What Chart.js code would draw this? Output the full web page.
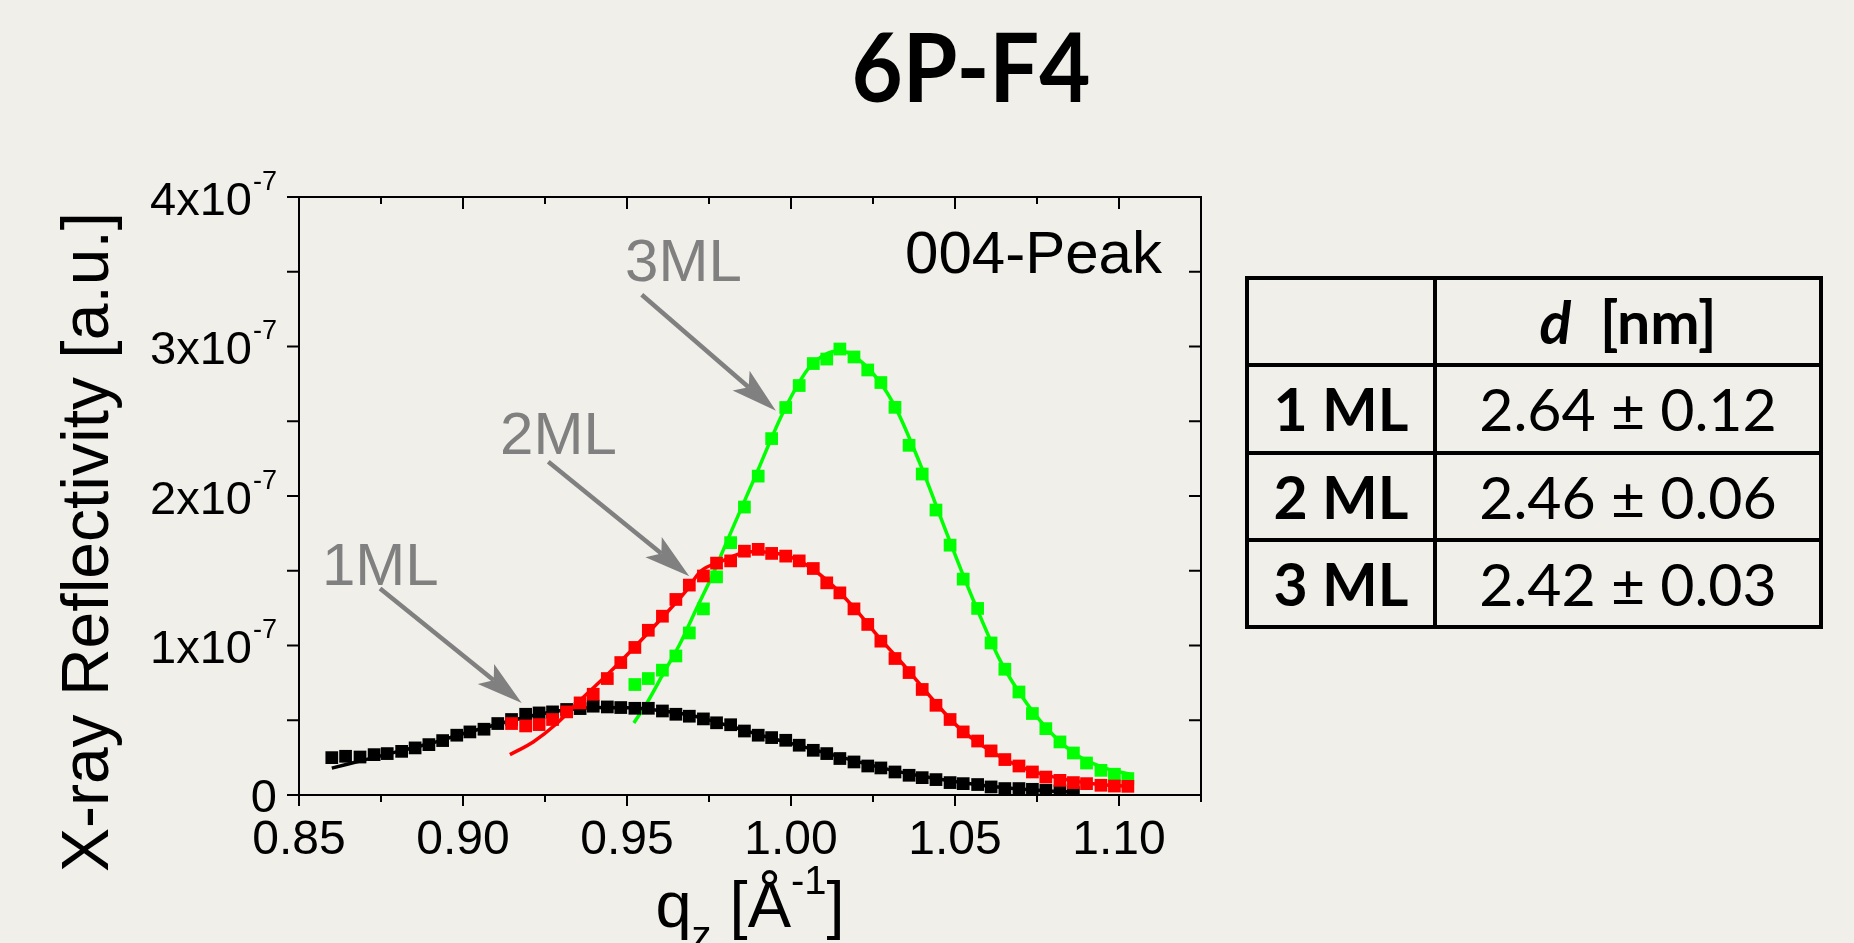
<!DOCTYPE html>
<html>
<head>
<meta charset="utf-8">
<title>6P-F4 004-Peak</title>
<script src="https://cdn.jsdelivr.net/npm/chart.js@4/dist/chart.umd.min.js"></script>
<style>
  html, body { margin: 0; padding: 0; background: #f0efe9; overflow: hidden; }
  #wrap { position: relative; width: 1854px; height: 943px; }
  #chart { position: absolute; left: 0; top: 0; }
  #tbl {
    position: absolute; left: 1245px; top: 276px; width: 578px; height: 353px;
    border-collapse: collapse; border: 4px solid #000;
    font-family: Lato, "Open Sans", sans-serif; font-size: 59px; color: #000;
  }
  #tbl td { border: 4px solid #000; text-align: center; padding: 0; height: 80px; line-height: 1; }
  #tbl td:first-child { width: 184px; font-weight: bold; }
</style>
</head>
<body>
<div id="wrap">
  <canvas id="chart" width="1854" height="943"></canvas>
  <table id="tbl"></table>
</div>
<script>
// X-ray reflectivity around the 004 peak, values in units of 1e-7 a.u.
// 1 ML (black)
let q1ML = [0.8600, 0.8642, 0.8686, 0.8729, 0.8769, 0.8813, 0.8854, 0.8896, 0.8938, 0.8981,
            0.9021, 0.9064, 0.9106, 0.9148, 0.9191, 0.9232, 0.9273, 0.9316, 0.9357, 0.9397,
            0.9440, 0.9481, 0.9524, 0.9565, 0.9608, 0.9649, 0.9690, 0.9733, 0.9773, 0.9816,
            0.9858, 0.9900, 0.9941, 0.9984, 1.0025, 1.0068, 1.0109, 1.0149, 1.0192, 1.0234,
            1.0274, 1.0317, 1.0360, 1.0400, 1.0442, 1.0485, 1.0525, 1.0569, 1.0610, 1.0652,
            1.0695, 1.0736, 1.0777, 1.0820, 1.0861];
let r1ML = [0.250, 0.259, 0.254, 0.270, 0.277, 0.292, 0.315, 0.337, 0.364, 0.400,
            0.422, 0.440, 0.478, 0.505, 0.540, 0.549, 0.556, 0.572, 0.578, 0.594,
            0.589, 0.585, 0.580, 0.580, 0.562, 0.540, 0.527, 0.509, 0.483, 0.470,
            0.428, 0.400, 0.384, 0.366, 0.333, 0.299, 0.277, 0.244, 0.221, 0.194,
            0.181, 0.154, 0.132, 0.116, 0.103, 0.083, 0.076, 0.070, 0.054, 0.043,
            0.043, 0.038, 0.031, 0.027, 0.016];

// 2 ML (red)
let q2ML = [0.9148, 0.9191, 0.9232, 0.9273, 0.9316, 0.9357, 0.9397, 0.9440, 0.9481, 0.9524,
            0.9565, 0.9608, 0.9649, 0.9690, 0.9733, 0.9773, 0.9816, 0.9858, 0.9900, 0.9941,
            0.9984, 1.0025, 1.0068, 1.0109, 1.0149, 1.0192, 1.0234, 1.0274, 1.0317, 1.0360,
            1.0400, 1.0442, 1.0485, 1.0525, 1.0569, 1.0610, 1.0652, 1.0695, 1.0736, 1.0777,
            1.0820, 1.0861, 1.0901, 1.0945, 1.0986, 1.1027];
let r2ML = [0.478, 0.462, 0.471, 0.505, 0.556, 0.616, 0.674, 0.779, 0.886, 0.987,
            1.102, 1.196, 1.308, 1.404, 1.465, 1.551, 1.566, 1.631, 1.643, 1.616,
            1.598, 1.566, 1.515, 1.419, 1.352, 1.245, 1.141, 1.029, 0.913, 0.819,
            0.706, 0.600, 0.505, 0.422, 0.361, 0.295, 0.237, 0.194, 0.154, 0.120,
            0.098, 0.083, 0.076, 0.065, 0.060, 0.058];

// 3 ML (green)
let q3ML = [0.9524, 0.9565, 0.9608, 0.9649, 0.9690, 0.9733, 0.9773, 0.9816, 0.9858, 0.9900,
            0.9941, 0.9984, 1.0025, 1.0068, 1.0109, 1.0149, 1.0192, 1.0234, 1.0274, 1.0317,
            1.0360, 1.0400, 1.0442, 1.0485, 1.0525, 1.0569, 1.0610, 1.0652, 1.0695, 1.0736,
            1.0777, 1.0820, 1.0861, 1.0901, 1.0945, 1.0986, 1.1027];
let r3ML = [0.739, 0.779, 0.835, 0.930, 1.084, 1.245, 1.459, 1.688, 1.926, 2.133,
            2.384, 2.592, 2.739, 2.886, 2.916, 2.983, 2.930, 2.843, 2.759, 2.593,
            2.339, 2.147, 1.906, 1.671, 1.444, 1.248, 1.017, 0.841, 0.689, 0.545,
            0.444, 0.355, 0.281, 0.214, 0.165, 0.139, 0.110];

// Fit curves
let fitQ1ML = [0.860, 0.870, 0.880, 0.890, 0.900, 0.910, 0.920, 0.930, 0.940, 0.950, 0.960, 0.970,
               0.980, 0.990, 1.000, 1.010, 1.020, 1.030, 1.040, 1.050, 1.060, 1.070, 1.080, 1.086];
let fit1ML = [0.180, 0.235, 0.290, 0.345, 0.410, 0.470, 0.525, 0.565, 0.585, 0.583, 0.565, 0.530,
              0.470, 0.405, 0.345, 0.285, 0.225, 0.170, 0.125, 0.090, 0.060, 0.040, 0.025, 0.020];

let fitQ2ML = [0.9143, 0.9214, 0.9286, 0.9357, 0.9438, 0.9519, 0.9600, 0.9682, 0.9723, 0.9784,
               0.9875, 0.9946, 1.0025, 1.0109, 1.0190, 1.0271, 1.0353, 1.0434, 1.0515, 1.0597,
               1.0678, 1.0759, 1.0840, 1.0922, 1.1027];
let fit2ML = [0.270, 0.355, 0.478, 0.634, 0.801, 0.980, 1.169, 1.370, 1.493, 1.560,
              1.627, 1.620, 1.566, 1.437, 1.258, 1.047, 0.846, 0.634, 0.444, 0.311,
              0.210, 0.143, 0.103, 0.076, 0.058];

let fitQ3ML = [0.9521, 0.9560, 0.9611, 0.9662, 0.9712, 0.9763, 0.9804, 0.9895, 0.9977, 1.0058,
               1.0149, 1.0231, 1.0312, 1.0393, 1.0475, 1.0556, 1.0637, 1.0719, 1.0800, 1.0881,
               1.0962, 1.1034];
let fit3ML = [0.482, 0.612, 0.813, 1.013, 1.248, 1.482, 1.693, 2.151, 2.564, 2.865,
              2.972, 2.865, 2.620, 2.218, 1.750, 1.303, 0.902, 0.612, 0.400, 0.254,
              0.177, 0.139];

// Axis ticks and labels
let xMajor = [0.85, 0.90, 0.95, 1.00, 1.05, 1.10];
let xMinor = [0.875, 0.925, 0.975, 1.025, 1.075, 1.125];
let xTickLabels = ['0.85', '0.90', '0.95', '1.00', '1.05', '1.10'];
let yMajor = [0, 1, 2, 3, 4];
let yMinor = [0.5, 1.5, 2.5, 3.5];
let yTickLabels = ['0', '1x10', '2x10', '3x10', '4x10'];

// Arrow labels, in data units (q, value)
let arrowLabels = ['1ML', '2ML', '3ML'];
let labelPos = [[0.8570, 1.404], [0.9113, 2.280], [0.9494, 3.440]];
let arrowFrom = [[0.8747, 1.382], [0.9260, 2.229], [0.9545, 3.346]];
let arrowTo = [[0.9179, 0.616], [0.9690, 1.464], [0.9954, 2.570]];

// Table on the right
let layers = ['1 ML', '2 ML', '3 ML'];
let dValues = ['2.64', '2.46', '2.42'];
let dErrors = ['0.12', '0.06', '0.03'];

const toXY = (xs, ys) => xs.map((x, i) => ({x: x, y: ys[i]}));

// Build the table
let tbl = document.getElementById('tbl');
let html = '<tr><td></td><td style="font-weight:bold"><i>d</i>&nbsp; [nm]</td></tr>';
layers.forEach((name, i) => {
    html += '<tr><td>' + name + '</td><td>' + dValues[i] + ' \u00b1 ' + dErrors[i] + '</td></tr>';
});
tbl.innerHTML = html;

const frameAndText = {
    id: 'frameAndText',
    afterDraw(chart) {
        const ctx = chart.ctx;
        const xs = chart.scales.x, ys = chart.scales.y;
        const {left, right, top, bottom} = chart.chartArea;
        ctx.save();

        // box and ticks
        ctx.strokeStyle = '#000';
        ctx.lineWidth = 2;
        ctx.strokeRect(left, top, right - left, bottom - top);
        ctx.beginPath();
        xMajor.forEach(v => {
            let px = xs.getPixelForValue(v);
            ctx.moveTo(px, bottom); ctx.lineTo(px, bottom + 11);
            ctx.moveTo(px, top); ctx.lineTo(px, top + 12);
        });
        xMinor.forEach(v => {
            let px = xs.getPixelForValue(v);
            ctx.moveTo(px, bottom); ctx.lineTo(px, bottom + 7);
            ctx.moveTo(px, top); ctx.lineTo(px, top + 7);
        });
        yMajor.concat(yMinor).forEach(v => {
            let py = ys.getPixelForValue(v);
            ctx.moveTo(left - 12, py); ctx.lineTo(left, py);
            ctx.moveTo(right - 12, py); ctx.lineTo(right, py);
        });
        ctx.stroke();

        ctx.fillStyle = '#000';
        // x tick labels
        ctx.font = '48px "Liberation Sans", Arial, sans-serif';
        ctx.textAlign = 'center';
        ctx.textBaseline = 'alphabetic';
        xMajor.forEach((v, i) => {
            ctx.fillText(xTickLabels[i], xs.getPixelForValue(v), bottom + 59);
        });

        // y tick labels with superscript exponent
        ctx.textAlign = 'left';
        yMajor.forEach((v, i) => {
            let py = ys.getPixelForValue(v);
            let rightEdge = left - 22;
            ctx.font = '47px "Liberation Sans", Arial, sans-serif';
            let base = yTickLabels[i];
            let bw = ctx.measureText(base).width;
            if (v === 0) {
                ctx.fillText(base, rightEdge - bw, py + 16.5);
                return;
            }
            ctx.font = '27px "Liberation Sans", Arial, sans-serif';
            let sw = ctx.measureText('-7').width;
            ctx.fillText('-7', rightEdge - sw, py - 7.5);
            ctx.font = '47px "Liberation Sans", Arial, sans-serif';
            ctx.fillText(base, rightEdge - sw - bw - 1, py + 17.5);
        });

        // y axis title
        ctx.save();
        ctx.translate(108, 542);
        ctx.rotate(-Math.PI / 2);
        ctx.textAlign = 'center';
        ctx.font = '66px "Liberation Sans", Arial, sans-serif';
        ctx.fillText('X-ray Reflectivity [a.u.]', 0, 0);
        ctx.restore();

        // x axis title: q_z [Å^-1]
        let big = '65px "Liberation Sans", Arial, sans-serif';
        let small = '40px "Liberation Sans", Arial, sans-serif';
        let parts = [['q', big, 0], ['z', small, 22], [' [\u00c5', big, 0], ['-1', small, -33], [']', big, 0]];
        let widths = parts.map(p => { ctx.font = p[1]; return ctx.measureText(p[0]).width; });
        let total = widths.reduce((a, b) => a + b, 0);
        let cx = (left + right) / 2 - total / 2;
        ctx.textAlign = 'left';
        parts.forEach((p, i) => {
            ctx.font = p[1];
            ctx.fillText(p[0], cx, 927 + p[2]);
            cx += widths[i];
        });

        // title, slightly condensed like the original
        ctx.save();
        ctx.translate(971, 102);
        ctx.scale(0.93, 1);
        ctx.font = 'bold 95px Lato, "Open Sans", sans-serif';
        ctx.textAlign = 'center';
        ctx.fillText('6P-F4', 0, 0);
        ctx.restore();

        // 004-Peak label
        ctx.font = '60px "Liberation Sans", Arial, sans-serif';
        ctx.textAlign = 'right';
        ctx.fillText('004-Peak', xs.getPixelForValue(1.1131), ys.getPixelForValue(3.492));

        // arrow labels and arrows
        ctx.fillStyle = '#808080';
        ctx.strokeStyle = '#808080';
        ctx.textAlign = 'left';
        arrowLabels.forEach((lab, i) => {
            ctx.font = '60px "Liberation Sans", Arial, sans-serif';
            ctx.fillText(lab, xs.getPixelForValue(labelPos[i][0]), ys.getPixelForValue(labelPos[i][1]));
            let x0 = xs.getPixelForValue(arrowFrom[i][0]), y0 = ys.getPixelForValue(arrowFrom[i][1]);
            let x1 = xs.getPixelForValue(arrowTo[i][0]), y1 = ys.getPixelForValue(arrowTo[i][1]);
            let len = Math.hypot(x1 - x0, y1 - y0);
            let ux = (x1 - x0) / len, uy = (y1 - y0) / len;
            let nx = -uy, ny = ux;
            let headL = 46, headW = 13, notch = 10;
            ctx.lineWidth = 4.5;
            ctx.beginPath();
            ctx.moveTo(x0, y0);
            ctx.lineTo(x1 - ux * (headL - notch), y1 - uy * (headL - notch));
            ctx.stroke();
            ctx.beginPath();
            ctx.moveTo(x1, y1);
            ctx.lineTo(x1 - ux * headL + nx * headW, y1 - uy * headL + ny * headW);
            ctx.lineTo(x1 - ux * (headL - notch), y1 - uy * (headL - notch));
            ctx.lineTo(x1 - ux * headL - nx * headW, y1 - uy * headL - ny * headW);
            ctx.closePath();
            ctx.fill();
        });
        ctx.restore();
    }
};

function pointSet(label, xs, ys, color, order) {
    return {
        type: 'scatter', label: label, data: toXY(xs, ys), order: order,
        showLine: false, pointStyle: 'rect', pointRadius: 9, pointHoverRadius: 9,
        backgroundColor: color, borderColor: color, borderWidth: 0
    };
}

function fitSet(label, xs, ys, color, order) {
    return {
        type: 'line', label: label, data: toXY(xs, ys), order: order,
        showLine: true, pointRadius: 0, borderColor: color, borderWidth: 3.5,
        cubicInterpolationMode: 'monotone', fill: false
    };
}

new Chart(document.getElementById('chart'), {
    type: 'scatter',
    data: {
        datasets: [
            pointSet('3ML', q3ML, r3ML, '#00ff00', 6),
            fitSet('3ML fit', fitQ3ML, fit3ML, '#00ff00', 5),
            pointSet('1ML', q1ML, r1ML, '#000000', 4),
            fitSet('1ML fit', fitQ1ML, fit1ML, '#000000', 3),
            pointSet('2ML', q2ML, r2ML, '#ff0000', 2),
            fitSet('2ML fit', fitQ2ML, fit2ML, '#ff0000', 1)
        ]
    },
    options: {
        responsive: false,
        animation: false,
        layout: { padding: { left: 299, top: 197, right: 653, bottom: 148 } },
        plugins: { legend: { display: false }, tooltip: { enabled: false }, title: { display: false } },
        scales: {
            x: { type: 'linear', min: 0.85, max: 1.125, display: false },
            y: { type: 'linear', min: 0, max: 4, display: false }
        }
    },
    plugins: [frameAndText]
});
</script>
</body>
</html>
